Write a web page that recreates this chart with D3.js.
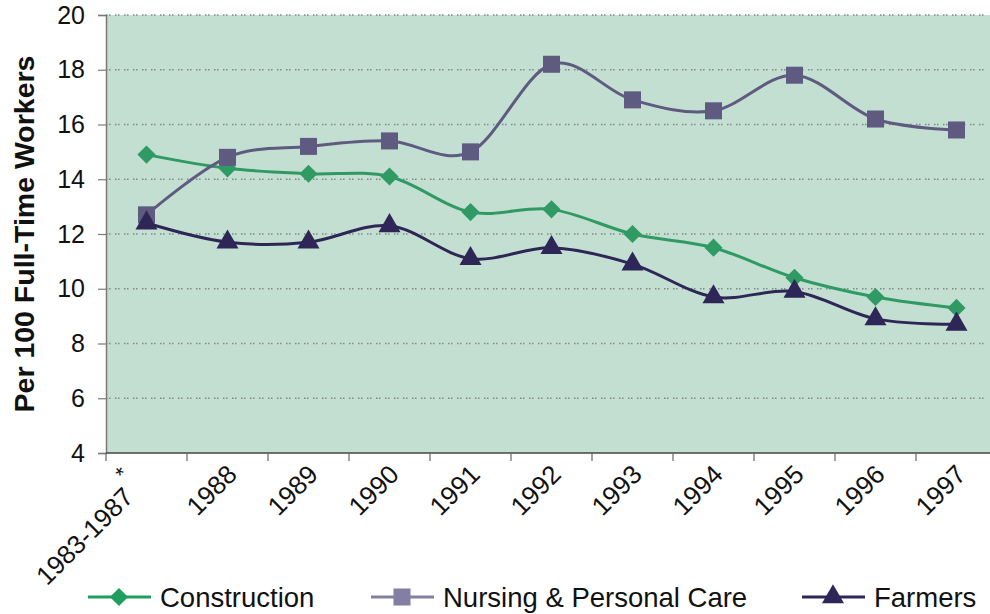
<!DOCTYPE html>
<html>
<head>
<meta charset="utf-8">
<script src="https://cdn.jsdelivr.net/npm/d3@7"></script>
<style>
	body { margin: 0; background: #fff; }
	text { font-family: "Liberation Sans", Arial, sans-serif; fill: #111; }
</style>
</head>
<body>
<svg id="chart" width="990" height="614"></svg>
<script>

const categories = ["1983-1987", "1988", "1989", "1990", "1991", "1992",
					"1993", "1994", "1995", "1996", "1997"];

const construction = [14.9, 14.4, 14.2, 14.1, 12.8, 12.9, 12.0, 11.5, 10.4, 9.7, 9.3];
const nursing      = [12.7, 14.8, 15.2, 15.4, 15.0, 18.2, 16.9, 16.5, 17.8, 16.2, 15.8];
const farmers      = [12.4, 11.7, 11.7, 12.3, 11.1, 11.5, 10.9, 9.7, 9.9, 8.9, 8.7];

const yTicks = [4, 6, 8, 10, 12, 14, 16, 18, 20];

const seriesNames = ["Construction", "Nursing & Personal Care", "Farmers"];

const svg = d3.select("#chart");

const plotLeft = 106, plotRight = 997, plotTop = 15, plotBottom = 453;

const x = d3.scaleBand()
			.domain(categories)
			.range([plotLeft, plotRight]);

const y = d3.scaleLinear()
			.domain([4, 20])
			.range([plotBottom, plotTop]);

// plot background
svg.append("rect")
	.attr("x", plotLeft)
	.attr("y", plotTop)
	.attr("width", 990 - plotLeft)
	.attr("height", plotBottom - plotTop)
	.attr("fill", "#c3dfd1");

// dotted grid
svg.append("g")
	.selectAll("line")
	.data(yTicks.filter(d => d > 4))
	.join("line")
		.attr("x1", plotLeft)
		.attr("x2", 986)
		.attr("y1", d => y(d))
		.attr("y2", d => y(d))
		.attr("stroke", "#7f8a85")
		.attr("stroke-width", 1.3)
		.attr("stroke-dasharray", "1.5,1.5,1.5,4.5");

// y axis
const yAxis = svg.append("g")
	.attr("transform", "translate(" + plotLeft + ",0)")
	.call(d3.axisLeft(y)
		.tickValues(yTicks)
		.tickSize(8)
		.tickPadding(13));
yAxis.select(".domain").attr("stroke", "#7a7a7a").attr("stroke-width", 1.5);
yAxis.selectAll(".tick line").attr("stroke", "#7a7a7a").attr("stroke-width", 1.2);
yAxis.selectAll(".tick text")
	.style("font-size", "25px")
	.attr("fill", "#111");

// x axis: ticks between categories
const xAxis = svg.append("g")
	.attr("transform", "translate(0," + plotBottom + ")");
xAxis.append("line")
	.attr("x1", plotLeft)
	.attr("x2", 990)
	.attr("stroke", "#444")
	.attr("stroke-width", 1.5);
xAxis.selectAll(".xtick")
	.data(categories)
	.join("line")
		.classed("xtick", true)
		.attr("x1", d => x(d))
		.attr("x2", d => x(d))
		.attr("y1", 0)
		.attr("y2", 8)
		.attr("stroke", "#666")
		.attr("stroke-width", 1.2);

const xLabels = svg.append("g")
	.selectAll("g")
	.data(categories)
	.join("g")
		.attr("transform", d => "translate(" + (x(d) + x.bandwidth() / 2 + 11)
								+ ",476) rotate(-45)");

xLabels.append("text")
	.attr("x", (d, i) => i == 0 ? -32 : 0)
	.attr("text-anchor", "end")
	.style("font-size", "26px")
	.text(d => d);

// asterisk on the first label
xLabels.filter((d, i) => i == 0)
	.append("text")
	.attr("x", -28)
	.attr("y", -19)
	.style("font-size", "22px")
	.text("*");

// lines and markers
const line = d3.line()
	.x((d, i) => x(categories[i]) + x.bandwidth() / 2)
	.y(d => y(d))
	.curve(d3.curveCardinal.tension(0));

const series = [
	{ name: seriesNames[0], values: construction, color: "#2f9a64", marker: d3.symbolSquare, size: 165, rot: 45, legendColor: "#1f9e5e" },
	{ name: seriesNames[1], values: nursing, color: "#5f5a80", marker: d3.symbolSquare, size: 290, rot: 0, legendColor: "#837fa2" },
	{ name: seriesNames[2], values: farmers, color: "#2e2656", marker: d3.symbolTriangle, size: 210, rot: 0, legendColor: "#2e2656" }
];

series.forEach(s => {
	svg.append("path")
		.datum(s.values)
		.attr("fill", "none")
		.attr("stroke", s.color)
		.attr("stroke-width", 3)
		.attr("d", line);

	svg.append("g")
		.selectAll("path")
		.data(s.values)
		.join("path")
			.attr("transform", (d, i) => "translate(" + (x(categories[i]) + x.bandwidth() / 2)
										+ "," + y(d) + ") rotate(" + s.rot + ")")
			.attr("d", d3.symbol().type(s.marker).size(s.size))
			.attr("fill", s.color);
});

// y axis title
svg.append("text")
	.attr("transform", "translate(34,234) rotate(-90)")
	.attr("text-anchor", "middle")
	.style("font-size", "28.5px")
	.style("font-weight", "bold")
	.text("Per 100 Full-Time Workers");

// legend
const legendX = [88, 371, 802];
const legend = svg.append("g")
	.selectAll("g")
	.data(series)
	.join("g")
		.attr("transform", (d, i) => "translate(" + legendX[i] + ",597)");

legend.append("line")
	.attr("x1", 0)
	.attr("x2", 63)
	.attr("stroke", d => d.legendColor)
	.attr("stroke-width", 3);

legend.append("path")
	.attr("transform", d => "translate(31,0) rotate(" + d.rot + ")")
	.attr("d", d => d3.symbol().type(d.marker).size(d.size)())
	.attr("fill", d => d.legendColor);

legend.append("text")
	.attr("x", 72)
	.attr("y", 10)
	.style("font-size", "27.5px")
	.text(d => d.name);

</script>
</body>
</html>
